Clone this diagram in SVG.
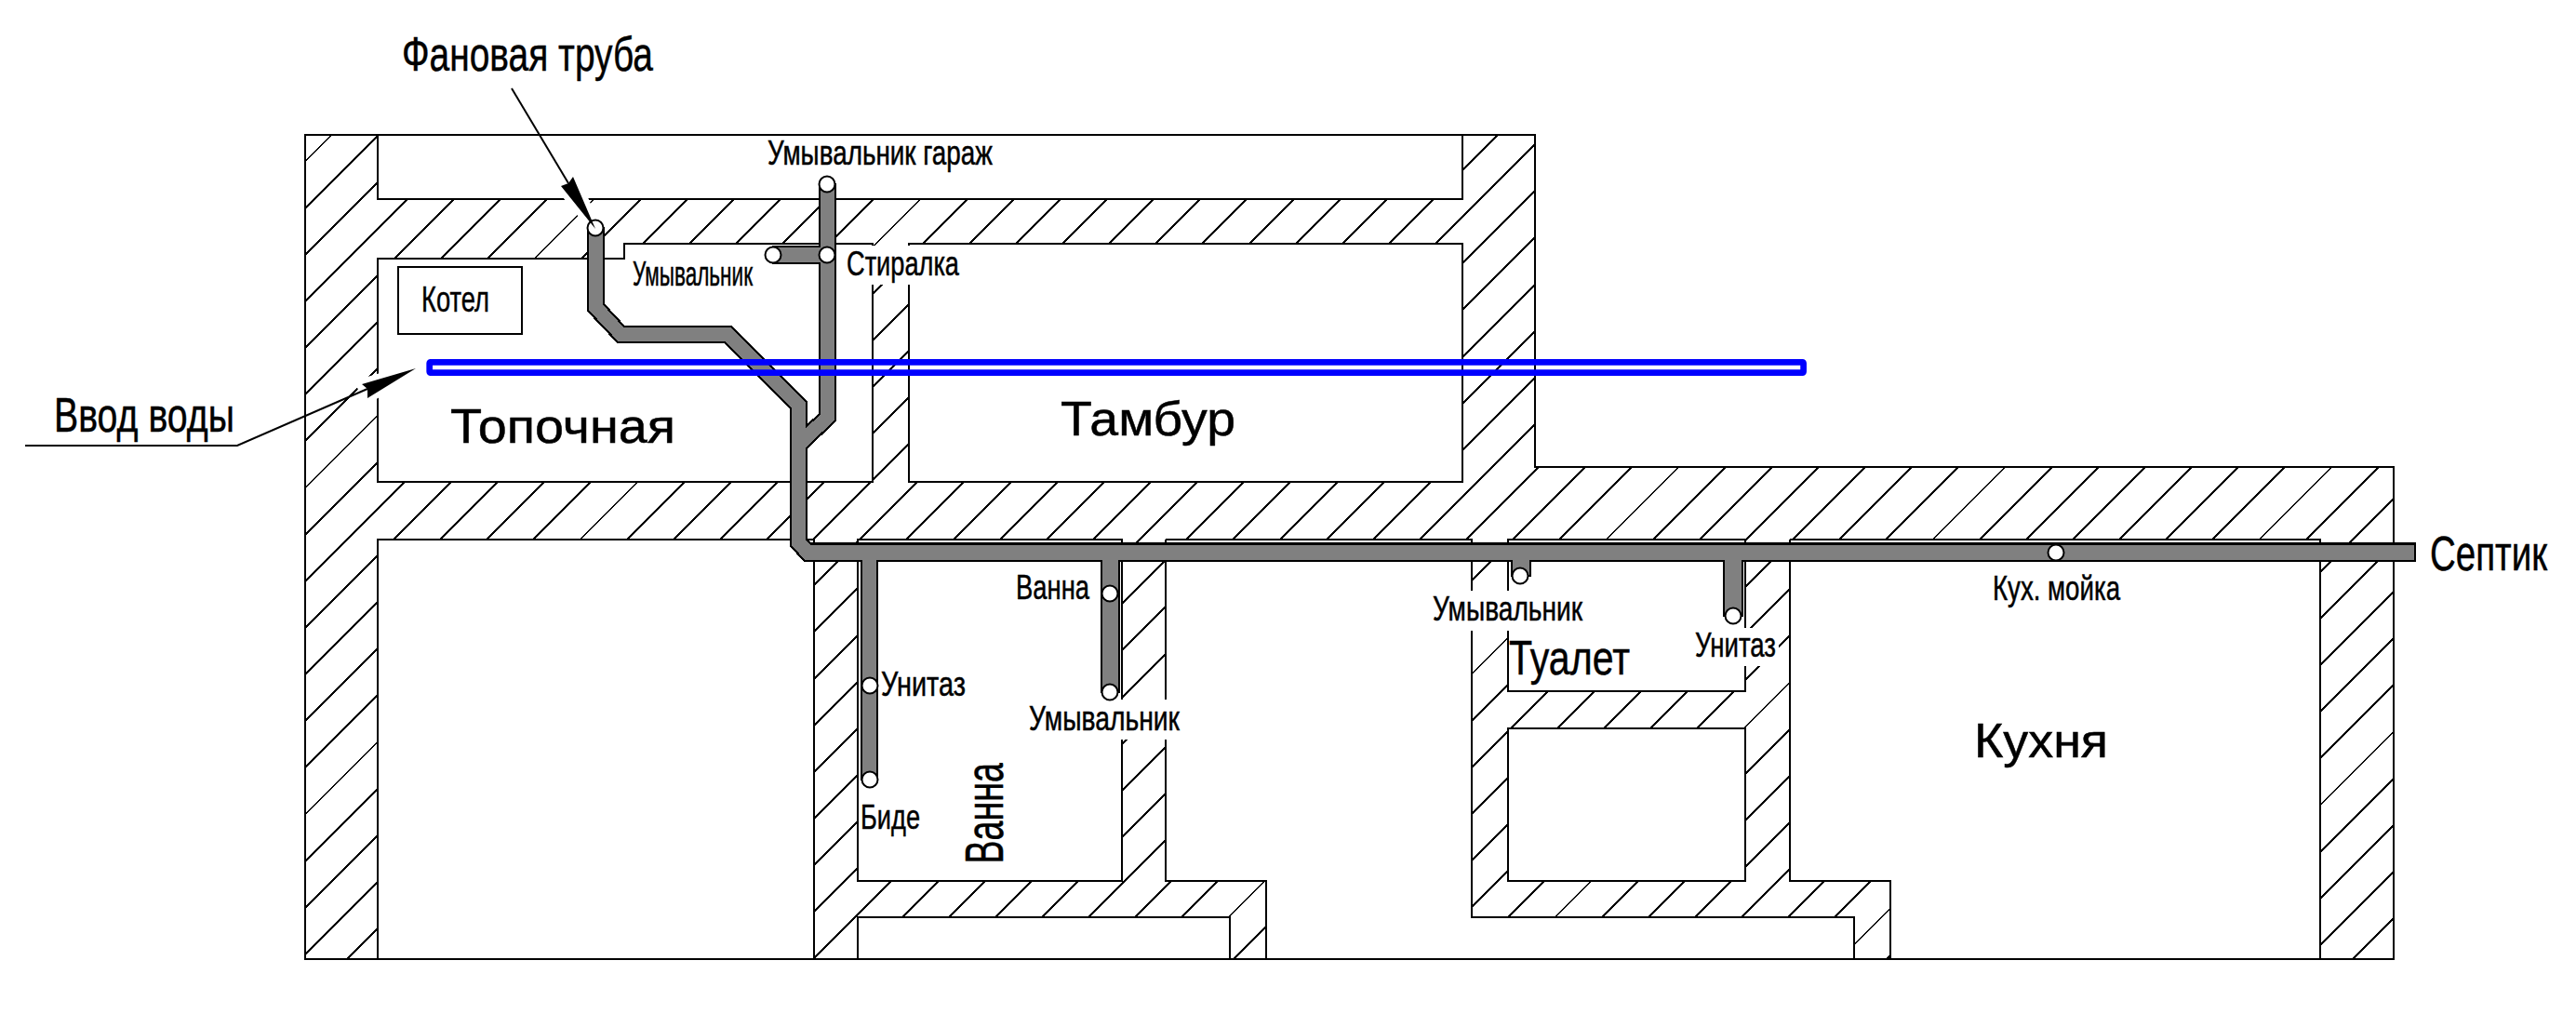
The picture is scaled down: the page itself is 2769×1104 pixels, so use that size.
<svg xmlns="http://www.w3.org/2000/svg" width="2769" height="1104" viewBox="0 0 2769 1104">
<style>
.wl{fill:none;stroke:#000;stroke-width:2.5;shape-rendering:crispEdges}
.ht{fill:none;stroke:#000;stroke-width:2;shape-rendering:crispEdges}
.pipe{fill:#808080;stroke:#000;stroke-width:2.2;stroke-linejoin:miter;shape-rendering:crispEdges}
.join{fill:#808080;stroke:none;shape-rendering:crispEdges}
.hole{fill:#fff;stroke:#000;stroke-width:2}
.lead{fill:none;stroke:#000;stroke-width:2}
.head{fill:#000;stroke:none}
.halo{fill:#fff;stroke:#fff;stroke-width:12;stroke-linejoin:round}
.wt{fill:#fff;stroke:none}
text{font-family:"Liberation Sans",Arial,sans-serif;fill:#000;stroke:#000;stroke-width:.5}
.s{font-size:37px}
.l{font-size:52px}
</style>
<defs>
<clipPath id="wall"><path clip-rule="evenodd" d="M328 145H1650V502H2573V1031H328Z M406 145H1572V214H406Z M406 278H671V262H938V518H406Z M977 262H1572V518H977Z M406 580H875V1031H406Z M922 580H1206V947H922Z M1253 580H1582V986H1993V1031H1361V947H1253Z M1621 580H1876V743H1621Z M1621 783H1876V947H1621Z M1924 580H2494V1031H2032V947H1924Z M922 986H1322V1031H922Z"/></clipPath>
</defs>
<rect width="2769" height="1104" fill="#fff"/>
<g id="hatching" clip-path="url(#wall)">
<path class="ht" d="M501.5 0L0 501.5M551.6 0L0 551.6M601.8 0L0 601.8M651.9 0L0 651.9M702.1 0L0 702.1M752.2 0L0 752.2M802.3 0L0 802.3M852.5 0L0 852.5M902.6 0L0 902.6M952.8 0L0 952.8M1002.9 0L0 1002.9M1053 0L0 1053M1103.2 0L0 1103.2M1153.3 0L0 1153.3M1203.5 0L0 1203.5M1253.6 0L0 1253.6M1303.7 0L0 1303.7M1353.9 0L0 1353.9M1404 0L0 1404M1454.2 0L0 1454.2M1504.3 0L0 1504.3M1554.4 0L0 1554.4M1604.6 0L0 1604.6M1654.7 0L0 1654.7M1704.9 0L0 1704.9M1755 0L0 1755M1805.1 0L0 1805.1M1855.3 0L0 1855.3M1905.4 0L0 1905.4M1955.6 0L0 1955.6M2005.7 0L0 2005.7M2055.8 0L0 2055.8M2106 0L0 2106M2156.1 0L0 2156.1M2206.3 0L0 2206.3M2256.4 0L0 2256.4M2306.5 0L0 2306.5M2356.7 0L0 2356.7M2406.8 0L0 2406.8M2457 0L0 2457M2507.1 0L0 2507.1M2557.2 0L0 2557.2M2607.4 0L0 2607.4M2657.5 0L0 2657.5M2707.7 0L0 2707.7M2757.8 0L0 2757.8M2807.9 0L0 2807.9M2858.1 0L0 2858.1M2908.2 0L0 2908.2M2958.4 0L0 2958.4M3008.5 0L0 3008.5M3058.6 0L0 3058.6M3108.8 0L0 3108.8M3158.9 0L0 3158.9M3209.1 0L0 3209.1M3259.2 0L0 3259.2M3309.3 0L0 3309.3M3359.5 0L0 3359.5M3409.6 0L0 3409.6M3459.8 0L0 3459.8M3509.9 0L0 3509.9M3560 0L0 3560"/>
</g>
<g id="walls">
<path class="wl" d="M328 145H1650V502H2573V1031H328Z"/>
<path class="wl" d="M406 145V214H1572V145"/>
<path class="wl" d="M938 262H671V278H406V518H938Z"/>
<path class="wl" d="M977 262H1572V518H977Z"/>
<path class="wl" d="M875 1031V580H406V1031"/>
<path class="wl" d="M922 580H1206V947H922Z"/>
<path class="wl" d="M1253 580H1582V986H1993V1031M1361 1031V947H1253V580"/>
<path class="wl" d="M1621 580H1876V743H1621Z"/>
<path class="wl" d="M1621 783H1876V947H1621Z"/>
<path class="wl" d="M1924 580H2494V1031M2032 1031V947H1924V580"/>
<path class="wl" d="M922 1031V986H1322V1031"/>
</g>
<g id="boiler"><rect class="wl" x="428" y="287" width="133" height="72"/></g>
<g id="label-masks">
<rect class="wt" x="905" y="264" width="130" height="42"/>
<rect class="wt" x="1105" y="752" width="165" height="43"/>
<rect class="wt" x="1535" y="635" width="170" height="43"/>
<rect class="wt" x="1820" y="675" width="92" height="41"/>
<path class="halo" d="M640 246L603 200L616 190Z"/>
<path class="halo" d="M447 396L389 413L395 428Z"/>
</g>
<g id="connectors">
<path class="lead" d="M550 95L611 197"/>
<path class="lead" d="M27 479H255L395 418"/>
<path class="pipe" d="M881 265H831V283H881Z"/>
<path class="pipe" d="M926 600V838H943V600ZM1184 600V744H1203V600ZM1625 600V619H1645V600ZM1853 600V662H1873V600Z"/>
<path id="riser" class="pipe" d="M632 245V334L664 368H779L850 439V587L865 603H2596V584.5H872L867 580V482L898 452V198H881V445L867 458V432L786 351H671L649 327V245Z"/>
<path class="join" d="M927 598h15v8h-15zM1185 598h17v8h-17zM1626 598h18v8h-18zM1854 598h18v8h-18zM878 266h6v16h-6z"/>
<rect x="461.7" y="389.4" width="1476.9" height="11.2" rx="1" fill="none" stroke="#0000ff" stroke-width="6.7"/>
</g>
<g id="fixtures">
<circle class="hole" cx="640" cy="245" r="8.5"/>
<circle class="hole" cx="889" cy="198" r="8.5"/>
<circle class="hole" cx="831" cy="274" r="8.5"/>
<circle class="hole" cx="889" cy="274" r="8.5"/>
<circle class="hole" cx="935" cy="737" r="8.5"/>
<circle class="hole" cx="935" cy="838" r="8.5"/>
<circle class="hole" cx="1193" cy="638" r="8.5"/>
<circle class="hole" cx="1193" cy="744" r="8.5"/>
<circle class="hole" cx="1634" cy="619" r="8.5"/>
<circle class="hole" cx="1863" cy="662" r="8.5"/>
<circle class="hole" cx="2210" cy="594" r="8.5"/>
</g>
<g id="arrowheads">
<path class="head" d="M640 246L603 200L611 197L616 190Z"/>
<path class="head" d="M447 396L389 413L395 418L395 428Z"/>
</g>
<g id="labels">
<text class="l" x="432" y="76" textLength="270" lengthAdjust="spacingAndGlyphs">Фановая труба</text>
<text class="l" x="58" y="464" textLength="194" lengthAdjust="spacingAndGlyphs">Ввод воды</text>
<text class="s" x="453" y="335" textLength="73" lengthAdjust="spacingAndGlyphs" style="font-size:39px">Котел</text>
<text class="l" x="484" y="476" textLength="242" lengthAdjust="spacingAndGlyphs">Топочная</text>
<text class="s" x="825" y="177" textLength="242" lengthAdjust="spacingAndGlyphs">Умывальник гараж</text>
<text class="s" x="680" y="307" textLength="129" lengthAdjust="spacingAndGlyphs">Умывальник</text>
<text class="s" x="910" y="296" textLength="121" lengthAdjust="spacingAndGlyphs">Стиралка</text>
<text class="l" x="1140" y="468" textLength="188" lengthAdjust="spacingAndGlyphs">Тамбур</text>
<text class="s" x="1092" y="644" textLength="79" lengthAdjust="spacingAndGlyphs">Ванна</text>
<text class="s" x="947" y="748" textLength="91" lengthAdjust="spacingAndGlyphs">Унитаз</text>
<text class="s" x="1106" y="785" textLength="162" lengthAdjust="spacingAndGlyphs">Умывальник</text>
<text class="s" x="925" y="891" textLength="64" lengthAdjust="spacingAndGlyphs">Биде</text>
<text transform="translate(1078 928.5) rotate(-90)" textLength="108.5" lengthAdjust="spacingAndGlyphs" style="font-size:58px">Ванна</text>
<text class="s" x="1540" y="667" textLength="161" lengthAdjust="spacingAndGlyphs">Умывальник</text>
<text class="s" x="1822" y="706" textLength="87" lengthAdjust="spacingAndGlyphs">Унитаз</text>
<text class="l" x="1622" y="725" textLength="130" lengthAdjust="spacingAndGlyphs">Туалет</text>
<text class="s" x="2142" y="645" textLength="137" lengthAdjust="spacingAndGlyphs">Кух. мойка</text>
<text class="l" x="2122" y="814" textLength="144" lengthAdjust="spacingAndGlyphs">Кухня</text>
<text class="l" transform="translate(2612 613) scale(.75 1)" textLength="168" lengthAdjust="spacingAndGlyphs">Септик</text>
</g>
</svg>
